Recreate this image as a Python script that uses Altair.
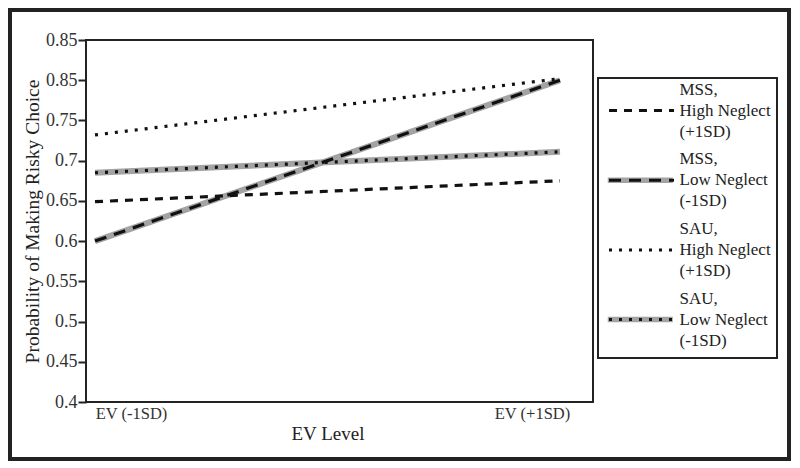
import altair as alt
import pandas as pd

ev_levels = ["EV (-1SD)", "EV (+1SD)"]
series_names = [
    "MSS,\nHigh Neglect\n(+1SD)",
    "MSS,\nLow Neglect\n(-1SD)",
    "SAU,\nHigh Neglect\n(+1SD)",
    "SAU,\nLow Neglect\n(-1SD)",
]
mss_high = [0.649, 0.675]
mss_low = [0.600, 0.800]
sau_high = [0.732, 0.802]
sau_low = [0.685, 0.711]
y_ticks = [0.4, 0.45, 0.5, 0.55, 0.6, 0.65, 0.7, 0.75, 0.8, 0.85]
y_tick_labels = ["0.4", "0.45", "0.5", "0.55", "0.6", "0.65", "0.7", "0.75", "0.85", "0.85"]

rows = []
for name, vals in zip(series_names, [mss_high, mss_low, sau_high, sau_low]):
    for lvl, v in zip(ev_levels, vals):
        rows.append({"ev": lvl, "series": name, "prob": v})
df = pd.DataFrame(rows)

# y label expression from tick list
expr = "''"
for t, lab in reversed(list(zip(y_ticks, y_tick_labels))):
    expr = f"abs(datum.value - {t}) < 0.001 ? '{lab}' : ({expr})"

FONT = "Liberation Serif"
INK = "#222222"
GRAY = "#a3a3a3"

x_enc = alt.X(
    "ev:N",
    sort=ev_levels,
    scale=alt.Scale(range=[9, 474], padding=0),
    axis=alt.Axis(
        title="EV Level",
        ticks=False,
        domain=False,
        labelAngle=0,
        labelPadding=3,
        labelFontSize=16.5,
        labelColor="#333333",
        labelOffset={"condition": {"test": "datum.value === 'EV (-1SD)'", "value": 36}, "value": -28},
        titleFontSize=19,
        titleFontWeight="normal",
        titleColor=INK,
        titlePadding=3,
    ),
)
y_enc = alt.Y(
    "prob:Q",
    scale=alt.Scale(domain=[0.4, 0.85], nice=False, zero=False),
    axis=alt.Axis(
        values=y_ticks,
        labelExpr=expr,
        title="Probability of Making Risky Choice",
        domain=False,
        grid=False,
        tickSize=8,
        tickWidth=2,
        tickColor=INK,
        labelPadding=1,
        labelFontSize=18,
        labelColor="#333333",
        titleFontSize=19.5,
        titleFontWeight="normal",
        titleColor=INK,
        titlePadding=3,
    ),
)

LH = 21  # legend label line height


def legend_props(**extra):
    base = dict(
        title=None,
        orient="none",
        legendX=518,
        legendY=41,
        direction="vertical",
        symbolSize=100,
        symbolOffset=0,
        labelFont=FONT,
        labelFontSize=17,
        labelOffset=58.5,
        labelLimit=300,
        padding=0,
        rowPadding=9.7,
        strokeColor="transparent",
        symbolFillColor="transparent",
    )
    base.update(extra)
    return alt.Legend(**base)


gray = alt.Chart(df).mark_line(strokeWidth=6, strokeCap="butt").encode(
    x=x_enc,
    y=y_enc,
    color=alt.Color(
        "series:N",
        scale=alt.Scale(domain=series_names, range=["transparent", GRAY, "transparent", GRAY]),
        legend=legend_props(
            symbolType="M-0.95,4.2L12.05,4.2",
            symbolStrokeWidth=5.5,
            labelExpr="split(datum.label, '\\n')",
            labelColor=INK,
        ),
    ),
)

black = alt.Chart(df).mark_line(strokeWidth=3.2, color="#111111", strokeCap="butt").encode(
    x=x_enc,
    y=y_enc,
    strokeDash=alt.StrokeDash(
        "series:N",
        scale=alt.Scale(range=[[8, 7], [12, 8], [3, 7], [3, 7]]),
        legend=legend_props(
            symbolType="M-0.7,4.2L12.3,4.2",
            symbolStrokeWidth=3,
            symbolStrokeColor="#111111",
            labelExpr="[' ', ' ', ' ']",
        ),
    ),
)

one_row = alt.Data(values=[{"a": 1}])

legend_box = alt.Chart(one_row).mark_rect(
    fill="transparent", stroke=INK, strokeWidth=2
).encode(
    x=alt.value(512), x2=alt.value(691), y=alt.value(38), y2=alt.value(318)
)

frame = alt.Chart(one_row).mark_rect(
    fill="transparent", stroke=INK, strokeWidth=4
).encode(
    x=alt.value(-76), x2=alt.value(703), y=alt.value(-30), y2=alt.value(419)
)

chart = alt.layer(gray, black, legend_box, frame).properties(
    width=507, height=362, padding=0
).configure(
    font=FONT,
    style={"guide-label": {"lineHeight": LH}},
).configure_view(
    stroke=INK, strokeWidth=2
)

chart.save("out.html", embed_options={"renderer": "svg", "actions": False})
